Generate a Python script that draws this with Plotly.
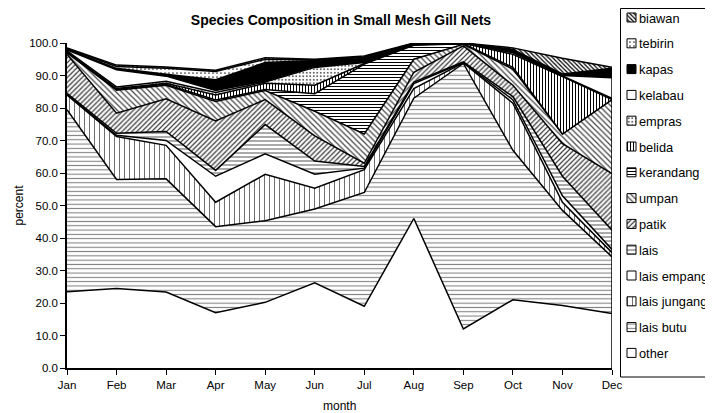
import plotly.graph_objects as go

months = ["Jan", "Feb", "Mar", "Apr", "May", "Jun", "Jul", "Aug", "Sep", "Oct", "Nov", "Dec"]

other        = [23.5, 24.5, 23.4, 17.0, 20.2, 26.2, 19.0, 46.0, 12.0, 21.0, 19.2, 16.8]
lais_butu    = [56.0, 33.5, 34.8, 26.5, 25.1, 22.7, 35.0, 37.0, 81.7, 46.0, 29.3, 17.4]
lais_jungang = [4.5, 13.2, 10.3, 7.5, 14.3, 6.4, 7.0, 3.0, 0.2, 14.5, 2.5, 1.3]
lais_empang  = [0.2, 0.4, 1.5, 8.0, 6.3, 4.3, 0.5, 1.5, 0.1, 1.0, 2.0, 1.0]
lais         = [0.3, 0.6, 2.8, 1.8, 9.0, 4.1, 0.5, 0.5, 0.2, 1.0, 6.0, 5.9]
patik        = [12.0, 6.2, 10.0, 15.2, 7.7, 7.7, 1.0, 3.0, 4.9, 3.5, 10.0, 17.4]
umpan        = [0.5, 7.1, 4.2, 6.0, 2.8, 7.6, 9.0, 4.0, 0.5, 5.0, 3.0, 22.8]
kerandang    = [0.2, 0.3, 0.3, 0.5, 0.3, 5.4, 21.5, 4.3, 0.2, 0.5, 0.0, 0.0]
belida       = [0.1, 0.2, 0.3, 1.5, 1.9, 2.6, 0.2, 0.2, 0.1, 4.0, 17.7, 0.0]
empras       = [0.3, 0.5, 0.6, 0.8, 0.4, 5.5, 0.3, 0.1, 0.1, 0.5, 0.2, 0.4]
kelabau      = [0.3, 5.3, 1.6, 0.6, 0.3, 0.3, 0.2, 0.1, 0.0, 0.3, 0.1, 6.3]
kapas        = [0.2, 0.4, 0.6, 3.3, 5.7, 1.8, 1.3, 0.1, 0.0, 0.5, 0.4, 2.7]
tebirin      = [0.2, 0.6, 1.8, 2.5, 1.0, 0.2, 0.2, 0.1, 0.0, 0.2, 0.1, 0.2]
biawan       = [0.2, 0.4, 0.4, 0.4, 0.5, 0.2, 0.3, 0.1, 0.0, 0.5, 4.8, 0.3]

y_ticks = [0, 10, 20, 30, 40, 50, 60, 70, 80, 90, 100]

# (name, values, pattern shape or None, size, solidity, fg, fill colour)
series = [
    ("other", other, None, 0, 0, "black", "white"),
    ("lais butu", lais_butu, "-", 4.3, 0.25, "#808080", "white"),
    ("lais jungang", lais_jungang, "|", 5, 0.2, "#707070", "white"),
    ("lais empang", lais_empang, None, 0, 0, "black", "white"),
    ("lais", lais, "-", 4, 0.25, "#555555", "white"),
    ("patik", patik, "/", 3.5, 0.35, "#333333", "white"),
    ("umpan", umpan, "\\", 4, 0.3, "#444444", "white"),
    ("kerandang", kerandang, "-", 3, 0.35, "black", "white"),
    ("belida", belida, "|", 3, 0.35, "black", "white"),
    ("empras", empras, ".", 3.5, 0.2, "#333333", "white"),
    ("kelabau", kelabau, None, 0, 0, "black", "white"),
    ("kapas", kapas, None, 0, 0, "black", "black"),
    ("tebirin", tebirin, ".", 4, 0.15, "#333333", "white"),
    ("biawan", biawan, "\\", 3, 0.4, "black", "white"),
]

font_family = "Liberation Sans, Arial, sans-serif"

# page body adds an 8px offset; figure coordinates = screen - 8
W, H = 713, 413
px0, px1, py0, py1 = 59, 604, 35, 360   # plot area in figure pixels
lg_x = 612                              # legend box left in figure pixels

fig = go.Figure()
for name, vals, shape, size, sol, fg, fc in series:
    kw = dict(x=months, y=vals, name=name, mode="lines", stackgroup="one",
              line=dict(color="black", width=1.5), fillcolor=fc, showlegend=False)
    if shape:
        kw["fillpattern"] = dict(shape=shape, size=size, solidity=sol,
                                 fgcolor=fg, bgcolor="white", fillmode="replace")
    fig.add_trace(go.Scatter(**kw))

# right edge of the stacked area at Dec
totals = [sum(s[1][k] for s in series) for k in range(len(months))]
fig.add_trace(go.Scatter(x=[months[-1], months[-1]], y=[0, totals[-1]], mode="lines",
                         line=dict(color="black", width=1.5), showlegend=False,
                         hoverinfo="skip"))

# custom legend (swatches on an overlay axis measured in pixels)
annotations = []
step = 25.8
for k, (name, vals, shape, size, sol, fg, fc) in enumerate(reversed(series)):
    c = 9.5 + step * k
    sx0, sx1, s = 7, 16, 4.5
    kw = dict(x=[sx0, sx1, sx1, sx0, sx0], y=[c - s, c - s, c + s, c + s, c - s],
              mode="lines", fill="toself", fillcolor=fc,
              line=dict(color="black", width=1), xaxis="x2", yaxis="y2",
              showlegend=False, hoverinfo="skip")
    if shape:
        kw["fillpattern"] = dict(shape=shape, size=size, solidity=sol,
                                 fgcolor=fg, bgcolor="white", fillmode="replace")
    fig.add_trace(go.Scatter(**kw))
    annotations.append(dict(text=name, xref="x2", yref="y2", x=16.5, y=c + 0.5,
                            xanchor="left", yanchor="middle", showarrow=False,
                            font=dict(size=12.8, family=font_family, color="black")))

annotations += [
    dict(text="percent", xref="paper", yref="paper", x=10 / W, y=1 - (py0 + py1) / 2 / H,
         textangle=-90, showarrow=False, xanchor="center", yanchor="middle",
         font=dict(size=12)),
    dict(text="month", xref="paper", yref="paper", x=(px0 + px1) / 2 / W, y=1 - 398 / H,
         showarrow=False, xanchor="center", yanchor="middle", font=dict(size=12)),
]

fig.update_layout(
    width=W, height=H,
    margin=dict(l=0, r=0, t=0, b=0, autoexpand=False),
    paper_bgcolor="white", plot_bgcolor="white",
    font=dict(family=font_family, size=11.5, color="black"),
    title=dict(text="<b>Species Composition in Small Mesh Gill Nets</b>",
               x=333 / W, xanchor="center", y=1 - 12 / H, yanchor="middle",
               font=dict(size=14, family=font_family, color="black")),
    showlegend=False,
    xaxis=dict(type="category", range=[0, len(months) - 1], domain=[px0 / W, px1 / W],
               showline=True, linecolor="black", linewidth=1.5, ticks="outside",
               ticklen=5, tickcolor="black", showgrid=False, zeroline=False,
               tickfont=dict(size=11.5), anchor="y"),
    yaxis=dict(range=[0, 100], domain=[1 - py1 / H, 1 - py0 / H], tickvals=y_ticks,
               tickformat=".1f", showline=True, linecolor="black", linewidth=1.5,
               ticks="outside", ticklen=5, tickcolor="black", showgrid=False,
               zeroline=False, tickfont=dict(size=11.5), anchor="x"),
    xaxis2=dict(domain=[lg_x / W, 1], range=[0, W - lg_x], visible=False,
                fixedrange=True, anchor="y2"),
    yaxis2=dict(domain=[0, 1], range=[H, 0], visible=False, fixedrange=True,
                anchor="x2"),
    shapes=[dict(type="rect", xref="x2", yref="y2", x0=0.5, x1=300, y0=0.5, y1=369,
                 line=dict(color="black", width=1), fillcolor="rgba(0,0,0,0)",
                 layer="below")],
    annotations=annotations,
)

fig.write_html("out.html")
